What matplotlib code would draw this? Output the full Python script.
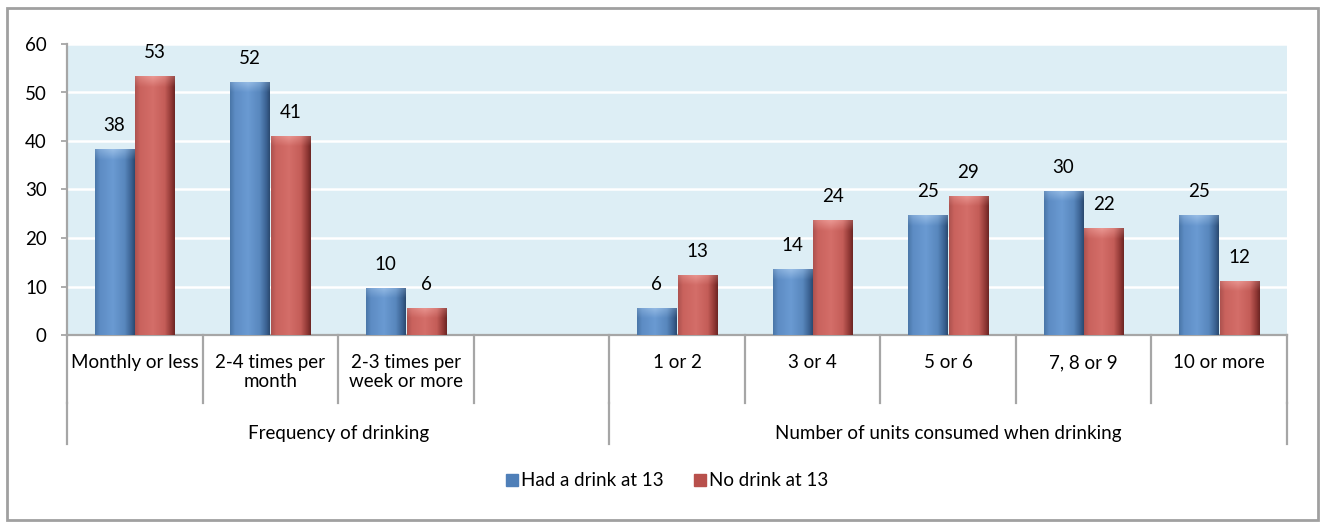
import matplotlib
matplotlib.use("Agg")
import matplotlib.pyplot as plt
import numpy as np
from matplotlib.patches import Rectangle
from matplotlib.colors import to_rgb
import matplotlib.transforms as mtransforms

plt.rcParams['font.family'] = ['Lato', 'DejaVu Sans']

# data
categories = ['Monthly or less', '2-4 times per\nmonth', '2-3 times per\nweek or more', '',
              '1 or 2', '3 or 4', '5 or 6', '7, 8 or 9', '10 or more']
groups = ['Frequency of drinking', 'Number of units consumed when drinking']
group_edges = [-0.5, 3.5, 8.5]
had_drink = [38.3, 52.2, 9.7, np.nan, 5.6, 13.6, 24.7, 29.7, 24.7]
no_drink = [53.4, 41.1, 5.6, np.nan, 12.4, 23.7, 28.7, 22.0, 11.2]
had_labels = ['38', '52', '10', '', '6', '14', '25', '30', '25']
no_labels = ['53', '41', '6', '', '13', '24', '29', '22', '12']
series = ['Had a drink at 13', 'No drink at 13']

FS = 13.5
W, H = 1322, 522
fig = plt.figure(figsize=(W / 100, H / 100), dpi=100)
ax = fig.add_axes([67 / W, 1 - 335 / H, 1220 / W, 291 / H])
ax.set_facecolor('#DDEEF5')

# outer frame
fig.patches.append(Rectangle((7 / W, 2 / H), 1311 / W, 512 / H, transform=fig.transFigure,
                             fill=False, edgecolor='#A0A0A0', lw=2))

# horizontal colour profiles for the glossy bars
profiles = {
    'blue': [(0.0, '#4a76a8'), (0.12, '#5d8cc4'), (0.45, '#6a9ad2'), (0.75, '#5887bd'),
             (0.92, '#3a6191'), (1.0, '#2b4a70')],
    'red': [(0.0, '#ad524f'), (0.12, '#c9625d'), (0.45, '#d46e69'), (0.75, '#c45d58'),
            (0.92, '#8f3734'), (1.0, '#6d2624')],
}
tops = {'blue': '#a4c6ea', 'red': '#f0a39e'}


def bar_image(name, h):
    xs = np.linspace(0, 1, 60)
    stops = profiles[name]
    pos = [s[0] for s in stops]
    cols = np.array([to_rgb(s[1]) for s in stops])
    row = np.stack([np.interp(xs, pos, cols[:, k]) for k in range(3)], axis=1)
    ny = 300
    img = np.repeat(row[None, :, :], ny, axis=0)
    # light cap at the top of the bar
    cap = 2.2 / h
    ys = np.linspace(1, 0, ny)  # top row first
    topc = np.array(to_rgb(tops[name]))
    for j, y in enumerate(ys):
        d = 1 - y
        if d < cap:
            t = 1 - d / cap
            shape = np.clip(1 - np.abs(xs - 0.45) * 2.2, 0, 1)
            w = (0.35 + 0.45 * shape) * t
            img[j] = img[j] * (1 - w[:, None]) + topc * w[:, None]
    return img


x = np.arange(len(categories))
bw = 0.29
for vals, labels, off, name in [(had_drink, had_labels, -0.15, 'blue'), (no_drink, no_labels, 0.15, 'red')]:
    bars = ax.bar(x + off, np.nan_to_num(vals), bw, color='none', edgecolor='none', zorder=3)
    for b, v, lab in zip(bars, vals, labels):
        if np.isnan(v):
            continue
        x0 = b.get_x()
        im = ax.imshow(bar_image(name, v), extent=(x0, x0 + bw, 0, v), aspect='auto',
                       zorder=3, interpolation='bilinear')
        im.set_clip_path(b)
        ax.annotate(lab, (x0 + bw / 2, v), xytext=(0, 17), textcoords='offset points',
                    ha='center', va='center', fontsize=FS, color='black')

ax.set_xlim(-0.5, len(categories) - 0.5)
ax.set_ylim(0, 60)
ax.set_yticks(range(0, 61, 10))
ax.grid(axis='y', color='white', lw=1.8, zorder=1)
ax.set_axisbelow(True)
ax.set_xticks([])
ax.tick_params(axis='y', length=4.5, width=1.3, color='#A6A6A6', labelsize=FS, pad=10)
for s in ['top', 'right']:
    ax.spines[s].set_visible(False)
for s in ['left', 'bottom']:
    ax.spines[s].set_color('#A6A6A6')
    ax.spines[s].set_linewidth(1.6)

# multi-level category axis
trans = mtransforms.blended_transform_factory(ax.transData, ax.transAxes)
row1 = -68 / 291
row2 = -109 / 291
for e in np.arange(-0.5, len(categories), 1.0):
    ax.plot([e, e], [0, row1], transform=trans, color='#A6A6A6', lw=1.6, clip_on=False)
for e in group_edges:
    ax.plot([e, e], [row1, row2], transform=trans, color='#A6A6A6', lw=1.6, clip_on=False)
for xi, lab in zip(x, categories):
    ax.text(xi, -19 / 291, lab, transform=trans, ha='center', va='top', fontsize=FS,
            linespacing=1.15)
for g, a, b in zip(groups, group_edges[:-1], group_edges[1:]):
    ax.text((a + b) / 2, -98 / 291, g, transform=trans, ha='center', va='center', fontsize=FS)

handles = [Rectangle((0, 0), 1, 1, color='#4f7fb8'), Rectangle((0, 0), 1, 1, color='#b8504c')]
fig.legend(handles, series, loc='center', bbox_to_anchor=(667 / W, 1 - 481 / H), ncol=2,
           frameon=False, fontsize=FS, handlelength=0.65, handleheight=0.65,
           handletextpad=0.15, columnspacing=1.6)

fig.savefig('out.png', dpi=100)
